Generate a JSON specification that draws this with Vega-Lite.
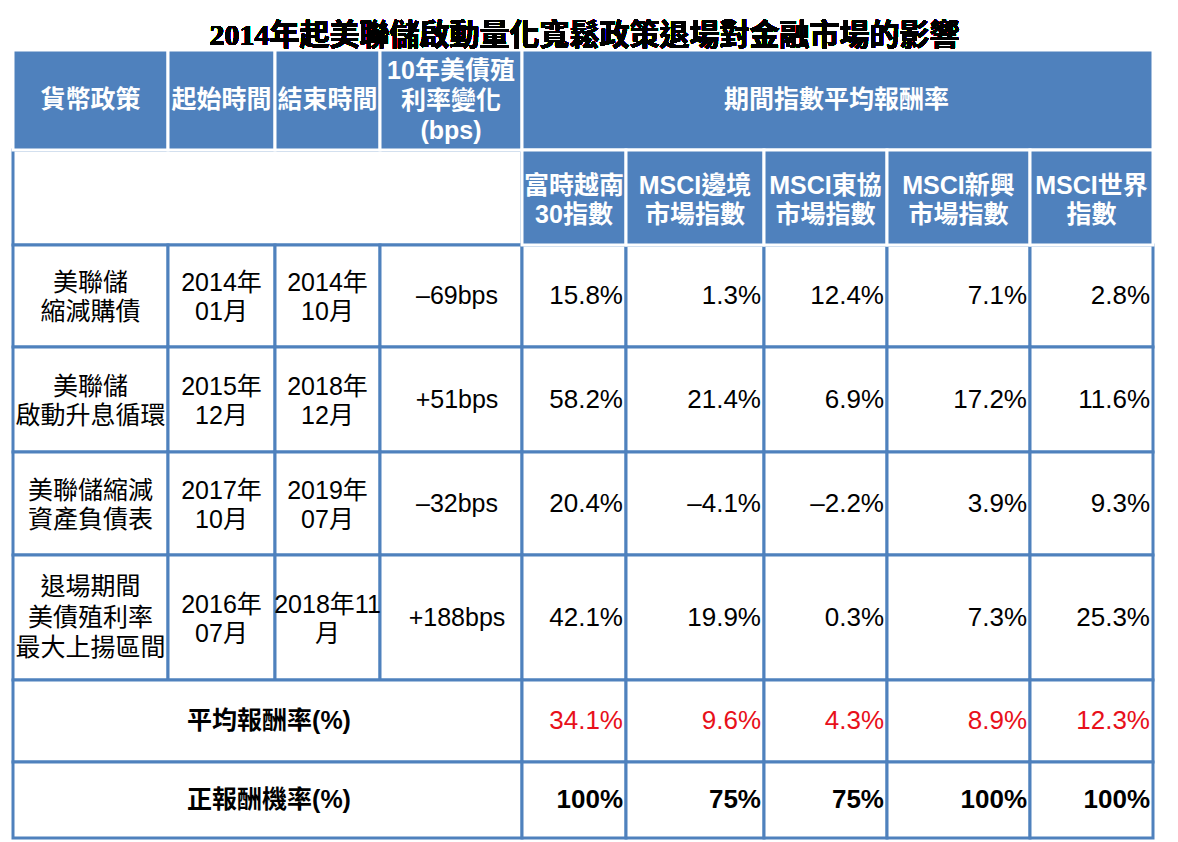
{
  "$schema": "https://vega.github.io/schema/vega-lite/v6.json",
  "width": 1178,
  "height": 842,
  "autosize": "none",
  "padding": 0,
  "background": "white",
  "config": {"view": {"stroke": null}},
  "data": {"values": [
    {"c1": 0, "c2": 4, "r1": 1, "r2": 2, "role": "blank", "text": ""},
    {"c1": 0, "c2": 1, "r1": 2, "r2": 3, "role": "label", "text": "美聯儲\n縮減購債"},
    {"c1": 1, "c2": 2, "r1": 2, "r2": 3, "role": "label", "text": "2014年\n01月"},
    {"c1": 2, "c2": 3, "r1": 2, "r2": 3, "role": "label", "text": "2014年\n10月"},
    {"c1": 3, "c2": 4, "r1": 2, "r2": 3, "role": "label", "text": "–69bps"},
    {"c1": 4, "c2": 5, "r1": 2, "r2": 3, "role": "value", "text": "15.8%"},
    {"c1": 5, "c2": 6, "r1": 2, "r2": 3, "role": "value", "text": "1.3%"},
    {"c1": 6, "c2": 7, "r1": 2, "r2": 3, "role": "value", "text": "12.4%"},
    {"c1": 7, "c2": 8, "r1": 2, "r2": 3, "role": "value", "text": "7.1%"},
    {"c1": 8, "c2": 9, "r1": 2, "r2": 3, "role": "value", "text": "2.8%"},
    {"c1": 0, "c2": 1, "r1": 3, "r2": 4, "role": "label", "text": "美聯儲\n啟動升息循環"},
    {"c1": 1, "c2": 2, "r1": 3, "r2": 4, "role": "label", "text": "2015年\n12月"},
    {"c1": 2, "c2": 3, "r1": 3, "r2": 4, "role": "label", "text": "2018年\n12月"},
    {"c1": 3, "c2": 4, "r1": 3, "r2": 4, "role": "label", "text": "+51bps"},
    {"c1": 4, "c2": 5, "r1": 3, "r2": 4, "role": "value", "text": "58.2%"},
    {"c1": 5, "c2": 6, "r1": 3, "r2": 4, "role": "value", "text": "21.4%"},
    {"c1": 6, "c2": 7, "r1": 3, "r2": 4, "role": "value", "text": "6.9%"},
    {"c1": 7, "c2": 8, "r1": 3, "r2": 4, "role": "value", "text": "17.2%"},
    {"c1": 8, "c2": 9, "r1": 3, "r2": 4, "role": "value", "text": "11.6%"},
    {"c1": 0, "c2": 1, "r1": 4, "r2": 5, "role": "label", "text": "美聯儲縮減\n資產負債表"},
    {"c1": 1, "c2": 2, "r1": 4, "r2": 5, "role": "label", "text": "2017年\n10月"},
    {"c1": 2, "c2": 3, "r1": 4, "r2": 5, "role": "label", "text": "2019年\n07月"},
    {"c1": 3, "c2": 4, "r1": 4, "r2": 5, "role": "label", "text": "–32bps"},
    {"c1": 4, "c2": 5, "r1": 4, "r2": 5, "role": "value", "text": "20.4%"},
    {"c1": 5, "c2": 6, "r1": 4, "r2": 5, "role": "value", "text": "–4.1%"},
    {"c1": 6, "c2": 7, "r1": 4, "r2": 5, "role": "value", "text": "–2.2%"},
    {"c1": 7, "c2": 8, "r1": 4, "r2": 5, "role": "value", "text": "3.9%"},
    {"c1": 8, "c2": 9, "r1": 4, "r2": 5, "role": "value", "text": "9.3%"},
    {"c1": 0, "c2": 1, "r1": 5, "r2": 6, "role": "label", "text": "退場期間\n美債殖利率\n最大上揚區間"},
    {"c1": 1, "c2": 2, "r1": 5, "r2": 6, "role": "label", "text": "2016年\n07月"},
    {"c1": 2, "c2": 3, "r1": 5, "r2": 6, "role": "label", "text": "2018年11\n月"},
    {"c1": 3, "c2": 4, "r1": 5, "r2": 6, "role": "label", "text": "+188bps"},
    {"c1": 4, "c2": 5, "r1": 5, "r2": 6, "role": "value", "text": "42.1%"},
    {"c1": 5, "c2": 6, "r1": 5, "r2": 6, "role": "value", "text": "19.9%"},
    {"c1": 6, "c2": 7, "r1": 5, "r2": 6, "role": "value", "text": "0.3%"},
    {"c1": 7, "c2": 8, "r1": 5, "r2": 6, "role": "value", "text": "7.3%"},
    {"c1": 8, "c2": 9, "r1": 5, "r2": 6, "role": "value", "text": "25.3%"},
    {"c1": 0, "c2": 4, "r1": 6, "r2": 7, "role": "sum", "text": "平均報酬率(%)"},
    {"c1": 4, "c2": 5, "r1": 6, "r2": 7, "role": "avg", "text": "34.1%"},
    {"c1": 5, "c2": 6, "r1": 6, "r2": 7, "role": "avg", "text": "9.6%"},
    {"c1": 6, "c2": 7, "r1": 6, "r2": 7, "role": "avg", "text": "4.3%"},
    {"c1": 7, "c2": 8, "r1": 6, "r2": 7, "role": "avg", "text": "8.9%"},
    {"c1": 8, "c2": 9, "r1": 6, "r2": 7, "role": "avg", "text": "12.3%"},
    {"c1": 0, "c2": 4, "r1": 7, "r2": 8, "role": "sum", "text": "正報酬機率(%)"},
    {"c1": 4, "c2": 5, "r1": 7, "r2": 8, "role": "prob", "text": "100%"},
    {"c1": 5, "c2": 6, "r1": 7, "r2": 8, "role": "prob", "text": "75%"},
    {"c1": 6, "c2": 7, "r1": 7, "r2": 8, "role": "prob", "text": "75%"},
    {"c1": 7, "c2": 8, "r1": 7, "r2": 8, "role": "prob", "text": "100%"},
    {"c1": 8, "c2": 9, "r1": 7, "r2": 8, "role": "prob", "text": "100%"},
    {"c1": 0, "c2": 1, "r1": 0, "r2": 1, "role": "head", "text": "貨幣政策"},
    {"c1": 1, "c2": 2, "r1": 0, "r2": 1, "role": "head", "text": "起始時間"},
    {"c1": 2, "c2": 3, "r1": 0, "r2": 1, "role": "head", "text": "結束時間"},
    {"c1": 3, "c2": 4, "r1": 0, "r2": 1, "role": "head", "text": "10年美債殖\n利率變化\n(bps)"},
    {"c1": 4, "c2": 9, "r1": 0, "r2": 1, "role": "headspan", "text": "期間指數平均報酬率"},
    {"c1": 4, "c2": 5, "r1": 1, "r2": 2, "role": "head", "text": "富時越南\n30指數"},
    {"c1": 5, "c2": 6, "r1": 1, "r2": 2, "role": "head", "text": "MSCI邊境\n市場指數"},
    {"c1": 6, "c2": 7, "r1": 1, "r2": 2, "role": "head", "text": "MSCI東協\n市場指數"},
    {"c1": 7, "c2": 8, "r1": 1, "r2": 2, "role": "head", "text": "MSCI新興\n市場指數"},
    {"c1": 8, "c2": 9, "r1": 1, "r2": 2, "role": "head", "text": "MSCI世界\n指數"}
  ]},
  "transform": [
    {"calculate": "(datum.c1 + datum.c2) / 2", "as": "cx"},
    {"calculate": "(datum.r1 + datum.r2) / 2", "as": "cy"},
    {"calculate": "length(split(datum.text, '\\n'))", "as": "nl"}
  ],
  "layer": [
    {
      "transform": [{"filter": "datum.role != 'head' && datum.role != 'headspan'"}],
      "mark": {"type": "rect", "fill": "white", "stroke": "#4F81BD", "strokeWidth": 3},
      "encoding": {
        "x": {"field": "c1", "type": "quantitative", "axis": null, "scale": {"type": "linear", "domain": [0,1,2,3,4,5,6,7,8,9], "range": [13,168,275,380,522,626,764,887,1030,1153], "nice": false, "zero": false}},
        "x2": {"field": "c2"},
        "y": {"field": "r1", "type": "quantitative", "axis": null, "scale": {"type": "linear", "domain": [-1,0,1,2,3,4,5,6,7,8], "range": [0,50,150,245,347,452,555,680,762,838], "nice": false, "zero": false}},
        "y2": {"field": "r2"}
      }
    },
    {
      "transform": [{"filter": "datum.role == 'head' || datum.role == 'headspan'"}],
      "mark": {"type": "rect", "fill": "#4F81BD", "stroke": "white", "strokeWidth": 3},
      "encoding": {
        "x": {"field": "c1", "type": "quantitative"},
        "x2": {"field": "c2"},
        "y": {"field": "r1", "type": "quantitative"},
        "y2": {"field": "r2"}
      }
    },
    {
      "transform": [{"filter": "datum.role == 'head' && datum.nl == 2"}],
      "mark": {"type": "text", "color": "white", "fontWeight": "bold", "fontSize": 25, "font": "Liberation Sans, Noto Sans CJK TC", "align": "center", "baseline": "middle", "lineBreak": "\n", "lineHeight": 29, "dy": -12},
      "encoding": {
        "x": {"field": "cx", "type": "quantitative"},
        "y": {"field": "cy", "type": "quantitative"},
        "text": {"field": "text"}
      }
    },
    {
      "transform": [{"filter": "datum.role == 'head' && datum.nl == 3"}],
      "mark": {"type": "text", "color": "white", "fontWeight": "bold", "fontSize": 25, "font": "Liberation Sans, Noto Sans CJK TC", "align": "center", "baseline": "middle", "lineBreak": "\n", "lineHeight": 30, "dy": -29},
      "encoding": {
        "x": {"field": "cx", "type": "quantitative"},
        "y": {"field": "cy", "type": "quantitative"},
        "text": {"field": "text"}
      }
    },
    {
      "transform": [{"filter": "datum.role == 'head' && datum.nl == 1"}],
      "mark": {"type": "text", "color": "white", "fontWeight": "bold", "fontSize": 25, "font": "Liberation Sans, Noto Sans CJK TC", "align": "center", "baseline": "middle"},
      "encoding": {
        "x": {"field": "cx", "type": "quantitative"},
        "y": {"field": "cy", "type": "quantitative"},
        "text": {"field": "text"}
      }
    },
    {
      "transform": [{"filter": "datum.role == 'headspan'"}],
      "mark": {"type": "text", "color": "white", "fontWeight": "bold", "fontSize": 25, "font": "Liberation Sans, Noto Sans CJK TC", "align": "center", "baseline": "middle", "dx": 11},
      "encoding": {
        "x": {"field": "cx", "type": "quantitative"},
        "y": {"field": "cy", "type": "quantitative"},
        "text": {"field": "text"}
      }
    },
    {
      "transform": [{"filter": "datum.role == 'label' && datum.nl == 1"}],
      "mark": {"type": "text", "color": "black", "fontSize": 25, "font": "Liberation Sans, Noto Sans CJK TC", "align": "center", "baseline": "middle", "dx": 6},
      "encoding": {
        "x": {"field": "cx", "type": "quantitative"},
        "y": {"field": "cy", "type": "quantitative"},
        "text": {"field": "text"}
      }
    },
    {
      "transform": [{"filter": "datum.role == 'label' && datum.nl == 2"}],
      "mark": {"type": "text", "color": "black", "fontSize": 25, "font": "Liberation Sans, Noto Sans CJK TC", "align": "center", "baseline": "middle", "lineBreak": "\n", "lineHeight": 29, "dy": -13},
      "encoding": {
        "x": {"field": "cx", "type": "quantitative"},
        "y": {"field": "cy", "type": "quantitative"},
        "text": {"field": "text"}
      }
    },
    {
      "transform": [{"filter": "datum.role == 'label' && datum.nl == 3"}],
      "mark": {"type": "text", "color": "black", "fontSize": 25, "font": "Liberation Sans, Noto Sans CJK TC", "align": "center", "baseline": "middle", "lineBreak": "\n", "lineHeight": 30.5, "dy": -30.5},
      "encoding": {
        "x": {"field": "cx", "type": "quantitative"},
        "y": {"field": "cy", "type": "quantitative"},
        "text": {"field": "text"}
      }
    },
    {
      "transform": [{"filter": "datum.role == 'sum'"}],
      "mark": {"type": "text", "color": "black", "fontWeight": "bold", "fontSize": 25, "font": "Liberation Sans, Noto Sans CJK TC", "align": "center", "baseline": "middle", "dx": -6},
      "encoding": {
        "x": {"field": "cx", "type": "quantitative"},
        "y": {"field": "cy", "type": "quantitative"},
        "text": {"field": "text"}
      }
    },
    {
      "transform": [{"filter": "datum.role == 'value'"}],
      "mark": {"type": "text", "color": "black", "fontSize": 26, "font": "Liberation Sans, Noto Sans CJK TC", "align": "right", "baseline": "middle", "dx": -3},
      "encoding": {
        "x": {"field": "c2", "type": "quantitative"},
        "y": {"field": "cy", "type": "quantitative"},
        "text": {"field": "text"}
      }
    },
    {
      "transform": [{"filter": "datum.role == 'avg'"}],
      "mark": {"type": "text", "color": "#E8101A", "fontSize": 26, "font": "Liberation Sans, Noto Sans CJK TC", "align": "right", "baseline": "middle", "dx": -3},
      "encoding": {
        "x": {"field": "c2", "type": "quantitative"},
        "y": {"field": "cy", "type": "quantitative"},
        "text": {"field": "text"}
      }
    },
    {
      "transform": [{"filter": "datum.role == 'prob'"}],
      "mark": {"type": "text", "color": "black", "fontWeight": "bold", "fontSize": 26, "font": "Liberation Sans, Noto Sans CJK TC", "align": "right", "baseline": "middle", "dx": -3},
      "encoding": {
        "x": {"field": "c2", "type": "quantitative"},
        "y": {"field": "cy", "type": "quantitative"},
        "text": {"field": "text"}
      }
    },
    {
      "mark": {"type": "text", "color": "black", "fontWeight": "bold", "fontSize": 30, "font": "Liberation Serif, Noto Sans CJK TC", "align": "center", "baseline": "middle"},
      "encoding": {
        "x": {"datum": 4.6, "type": "quantitative"},
        "y": {"datum": -0.28, "type": "quantitative"},
        "text": {"value": "2014年起美聯儲啟動量化寬鬆政策退場對金融市場的影響"}
      }
    }
  ]
}
